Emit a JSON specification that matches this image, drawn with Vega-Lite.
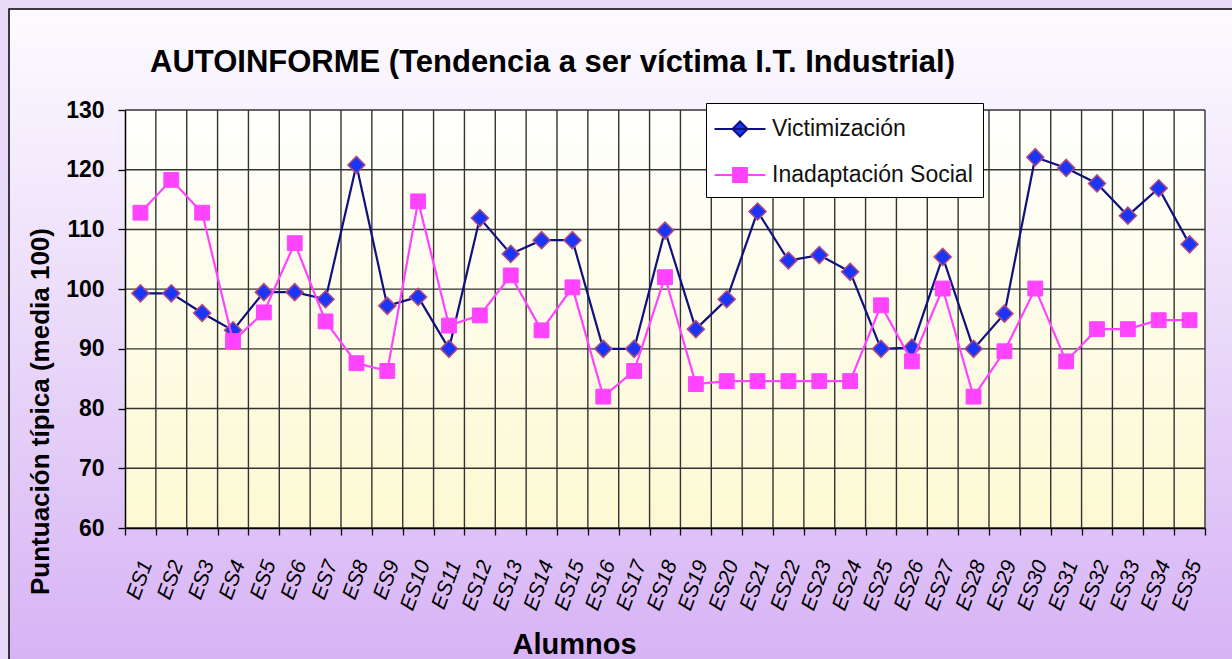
{
  "$schema": "https://vega.github.io/schema/vega-lite/v6.json",
  "width": 1080,
  "height": 418,
  "autosize": {"type": "none"},
  "padding": {"left": 125, "top": 110, "right": 27, "bottom": 131},
  "background": "#e9d9f8",
  "config": {"font": "Liberation Sans", "view": {"stroke": null}},
  "title": {
    "text": "AUTOINFORME (Tendencia a ser víctima I.T. Industrial)",
    "anchor": "start", "frame": "group", "dx": 25, "dy": 93, "offset": 22,
    "font": "Liberation Sans", "fontSize": 31, "fontWeight": "bold", "color": "#000", "zindex": 1
  },
  "datasets": {
    "d": [
      {"alumno": "ES1", "Victimización": 99.3, "Inadaptación Social": 112.8},
      {"alumno": "ES2", "Victimización": 99.3, "Inadaptación Social": 118.3},
      {"alumno": "ES3", "Victimización": 96.0, "Inadaptación Social": 112.8},
      {"alumno": "ES4", "Victimización": 93.1, "Inadaptación Social": 91.3},
      {"alumno": "ES5", "Victimización": 99.5, "Inadaptación Social": 96.1},
      {"alumno": "ES6", "Victimización": 99.5, "Inadaptación Social": 107.7},
      {"alumno": "ES7", "Victimización": 98.3, "Inadaptación Social": 94.6},
      {"alumno": "ES8", "Victimización": 120.8, "Inadaptación Social": 87.6},
      {"alumno": "ES9", "Victimización": 97.2, "Inadaptación Social": 86.3},
      {"alumno": "ES10", "Victimización": 98.7, "Inadaptación Social": 114.7},
      {"alumno": "ES11", "Victimización": 90.0, "Inadaptación Social": 93.9},
      {"alumno": "ES12", "Victimización": 111.9, "Inadaptación Social": 95.6},
      {"alumno": "ES13", "Victimización": 105.9, "Inadaptación Social": 102.3},
      {"alumno": "ES14", "Victimización": 108.2, "Inadaptación Social": 93.1},
      {"alumno": "ES15", "Victimización": 108.2, "Inadaptación Social": 100.3},
      {"alumno": "ES16", "Victimización": 90.0, "Inadaptación Social": 82.0},
      {"alumno": "ES17", "Victimización": 90.0, "Inadaptación Social": 86.3},
      {"alumno": "ES18", "Victimización": 109.8, "Inadaptación Social": 102.0},
      {"alumno": "ES19", "Victimización": 93.3, "Inadaptación Social": 84.1},
      {"alumno": "ES20", "Victimización": 98.3, "Inadaptación Social": 84.6},
      {"alumno": "ES21", "Victimización": 113.0, "Inadaptación Social": 84.6},
      {"alumno": "ES22", "Victimización": 104.8, "Inadaptación Social": 84.6},
      {"alumno": "ES23", "Victimización": 105.7, "Inadaptación Social": 84.6},
      {"alumno": "ES24", "Victimización": 102.9, "Inadaptación Social": 84.6},
      {"alumno": "ES25", "Victimización": 90.0, "Inadaptación Social": 97.3},
      {"alumno": "ES26", "Victimización": 90.2, "Inadaptación Social": 87.9},
      {"alumno": "ES27", "Victimización": 105.4, "Inadaptación Social": 100.1},
      {"alumno": "ES28", "Victimización": 90.0, "Inadaptación Social": 82.0},
      {"alumno": "ES29", "Victimización": 95.9, "Inadaptación Social": 89.6},
      {"alumno": "ES30", "Victimización": 122.1, "Inadaptación Social": 100.1},
      {"alumno": "ES31", "Victimización": 120.3, "Inadaptación Social": 87.9},
      {"alumno": "ES32", "Victimización": 117.7, "Inadaptación Social": 93.3},
      {"alumno": "ES33", "Victimización": 112.3, "Inadaptación Social": 93.3},
      {"alumno": "ES34", "Victimización": 116.9, "Inadaptación Social": 94.8},
      {"alumno": "ES35", "Victimización": 107.5, "Inadaptación Social": 94.8}
    ],
    "grid": [{"g": 60}, {"g": 70}, {"g": 80}, {"g": 90}, {"g": 100}, {"g": 110}, {"g": 120}, {"g": 130}]
  },
  "resolve": {"scale": {"x": "independent", "y": "independent"}},
  "layer": [
    {
      "data": {"values": [{}]},
      "mark": {
        "type": "rect", "stroke": "#000", "strokeWidth": 1.5,
        "fill": {"gradient": "linear", "x1": 0, "y1": 0, "x2": 0, "y2": 1,
          "stops": [{"offset": 0, "color": "#fdfbff"}, {"offset": 0.5, "color": "#e9d7f9"}, {"offset": 1, "color": "#d5aff5"}]}
      },
      "encoding": {
        "x": {"datum": -0.1074, "type": "quantitative", "scale": {"domain": [0, 1], "nice": false, "zero": false}, "axis": null},
        "x2": {"datum": 1.06},
        "y": {"datum": 1.2416, "type": "quantitative", "scale": {"domain": [0, 1], "nice": false, "zero": false}, "axis": null},
        "y2": {"datum": -0.4}
      }
    },
    {
      "layer": [
        {
          "data": {"values": [{}]},
          "mark": {
            "type": "rect",
            "fill": {"gradient": "linear", "x1": 0, "y1": 0, "x2": 0, "y2": 1,
              "stops": [{"offset": 0, "color": "#fffffd"}, {"offset": 1, "color": "#fcf9d2"}]}
          },
          "encoding": {
            "y": {"datum": 60, "type": "quantitative"},
            "y2": {"datum": 130}
          }
        },
        {
          "data": {"name": "grid"},
          "mark": {"type": "rule", "stroke": "#333333", "strokeWidth": 1.4},
          "encoding": {"y": {"field": "g", "type": "quantitative"}}
        },
        {
          "data": {"name": "d"},
          "mark": {"type": "rule", "stroke": "#333333", "strokeWidth": 1.4},
          "encoding": {"x": {"field": "alumno", "type": "nominal", "sort": null, "bandPosition": 1}}
        },
        {
          "data": {"name": "d"},
          "transform": [{"fold": ["Victimización", "Inadaptación Social"], "as": ["serie", "valor"]}, {"filter": "datum.serie === 'Victimización'"}],
          "mark": {"type": "line", "strokeWidth": 2.2},
          "encoding": {
            "x": {"field": "alumno", "type": "nominal", "sort": null,
              "axis": {"title": "Alumnos", "zindex": 1, "grid": false, "tickBand": "extent", "tickSize": 7, "tickColor": "#000", "tickWidth": 1.3,
                "domainColor": "#000", "domainWidth": 1.5,
                "labelAngle": -70, "labelAlign": "right", "labelBaseline": "middle", "labelPadding": 26, "labelOffset": 6,
                "labelFont": "Liberation Sans", "labelFontStyle": "italic", "labelFontSize": 21, "labelColor": "#000",
                "titleFont": "Liberation Sans", "titleFontSize": 29, "titleFontWeight": "bold", "titleColor": "#000",
                "titleX": 449, "titleY": 125, "titleBaseline": "alphabetic", "titleAlign": "center"}},
            "y": {"field": "valor", "type": "quantitative",
              "scale": {"domain": [60, 130], "nice": false, "zero": false},
              "axis": {"title": "Puntuación típica (media 100)", "zindex": 1, "grid": false, "values": [60, 70, 80, 90, 100, 110, 120, 130],
                "tickSize": 7, "tickColor": "#000", "tickWidth": 1.3, "domainColor": "#000", "domainWidth": 1.5,
                "labelPadding": 14, "labelFont": "Liberation Sans", "labelFontSize": 23, "labelFontWeight": "bold", "labelColor": "#000",
                "titleFont": "Liberation Sans", "titleFontSize": 26, "titleFontWeight": "bold", "titleColor": "#000",
                "titleAngle": -90, "titleX": -77, "titleY": 301, "titleBaseline": "alphabetic", "titleAlign": "center"}},
            "color": {"field": "serie", "type": "nominal",
              "scale": {"domain": ["Victimización", "Inadaptación Social"], "range": ["#10107e", "#ff44ff"]},
              "legend": {"orient": "none", "legendX": 581, "legendY": -7, "title": null, "zindex": 1,
                "fillColor": "#ffffff", "strokeColor": "#000000", "padding": 10,
                "labelFont": "Liberation Sans", "labelFontSize": 23, "labelColor": "#111", "labelOffset": 16, "labelLimit": 400,
                "symbolSize": 900, "symbolStrokeWidth": 2, "symbolOffset": 8, "rowPadding": 18,
                "encode": {"symbols": {"update": {
                  "shape": {"signal": "datum.value === 'Victimización' ? 'M-1.7,0H1.7M0,-0.5L0.5,0L0,0.5L-0.5,0Z' : 'M-1.7,0H1.7M-0.46,-0.46H0.46V0.46H-0.46Z'"},
                  "fill": {"signal": "datum.value === 'Victimización' ? '#1a35f5' : '#ff44ff'"},
                  "stroke": {"signal": "datum.value === 'Victimización' ? '#10107e' : '#ff44ff'"},
                  "strokeWidth": {"value": 2},
                  "opacity": {"value": 1}
                }}}}}
          }
        },
        {
          "data": {"name": "d"},
          "transform": [{"fold": ["Victimización"], "as": ["serie", "valor"]}],
          "mark": {"type": "point", "shape": "diamond", "filled": true, "fill": "#1a35f5", "stroke": "#b04a80", "strokeWidth": 1.5, "size": 290, "opacity": 1},
          "encoding": {
            "x": {"field": "alumno", "type": "nominal", "sort": null},
            "y": {"field": "valor", "type": "quantitative"}
          }
        },
        {
          "data": {"name": "d"},
          "transform": [{"fold": ["Victimización", "Inadaptación Social"], "as": ["serie", "valor"]}, {"filter": "datum.serie === 'Inadaptación Social'"}],
          "mark": {"type": "line", "strokeWidth": 2.2},
          "encoding": {
            "x": {"field": "alumno", "type": "nominal", "sort": null},
            "y": {"field": "valor", "type": "quantitative"},
            "color": {"field": "serie", "type": "nominal"}
          }
        },
        {
          "data": {"name": "d"},
          "transform": [{"fold": ["Inadaptación Social"], "as": ["serie", "valor"]}],
          "mark": {"type": "point", "shape": "square", "filled": true, "fill": "#ff44ff", "stroke": "#ff44ff", "strokeWidth": 1, "size": 220, "opacity": 1},
          "encoding": {
            "x": {"field": "alumno", "type": "nominal", "sort": null},
            "y": {"field": "valor", "type": "quantitative"}
          }
        }
      ]
    }
  ]
}
